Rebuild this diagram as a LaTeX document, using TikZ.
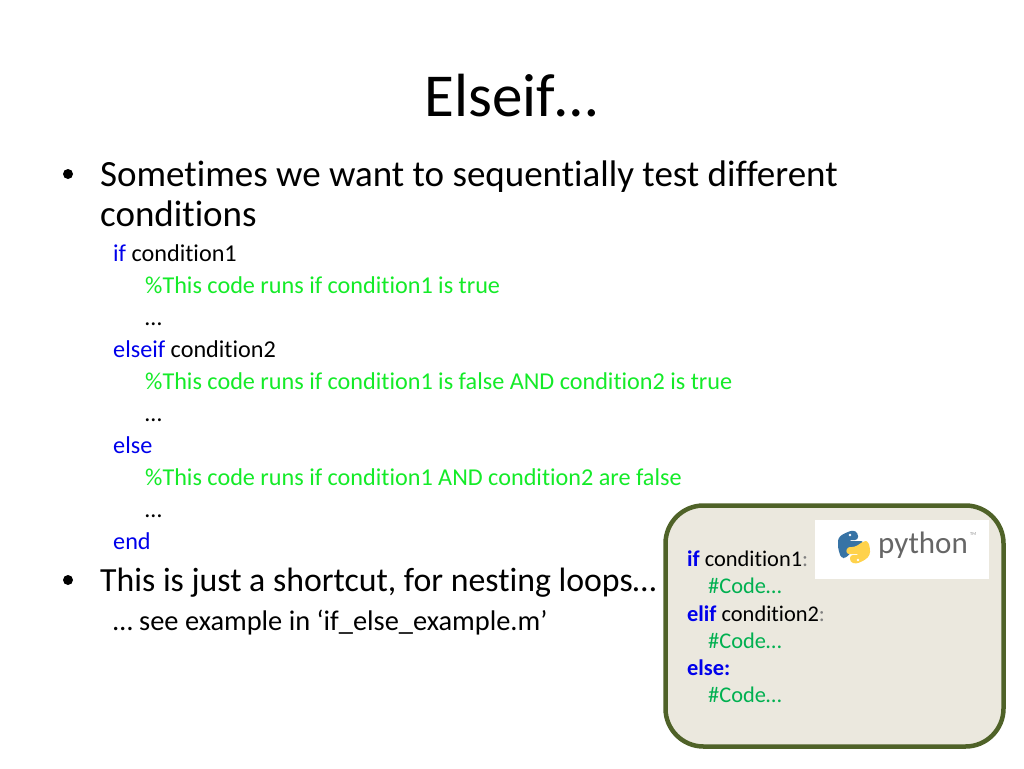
\documentclass[tikz,border=0pt]{standalone}
\usepackage{fontspec}
\setmainfont[Ligatures=NoCommon]{Carlito}
\usepackage{xcolor}
\definecolor{kwblue}{RGB}{0,0,235}
\definecolor{cmtgreen}{RGB}{20,235,40}
\definecolor{pygreen}{RGB}{0,176,80}
\definecolor{boxfill}{RGB}{235,232,222}
\definecolor{boxline}{RGB}{79,98,40}
\definecolor{snakeblue}{RGB}{55,115,165}
\definecolor{snakeyellow}{RGB}{255,210,75}
\tikzset{
    titletext/.style={anchor=base, font=\fontsize{61}{61}\selectfont},
    bodytext/.style={anchor=base west, inner sep=0pt, font=\fontsize{37}{37}\selectfont},
    codetext/.style={anchor=base west, inner sep=0pt, font=\fontsize{24.2}{24.2}\selectfont},
    boxtext/.style={anchor=base west, inner sep=0pt, font=\fontsize{22.4}{22.4}\selectfont},
}
\begin{document}
\begin{tikzpicture}[x=1pt, y=-1pt]
    \useasboundingbox (0, 0) rectangle (1024, 768);
    \fill[white] (0, 0) rectangle (1024, 768);

    % heading
    \node[titletext] (heading) at (511, 116) {Elseif…};

    % first bullet
    \fill (68, 174) circle (5);
    \node[bodytext] (sometimes) at (100, 186) {Sometimes we want to sequentially test different};
    \node[bodytext] (conditions) at (100, 226) {conditions};

    % matlab code
    \node[codetext] (ifline) at (113, 261) {\textcolor{kwblue}{if} condition1};
    \node[codetext, cmtgreen] (cmtone) at (145, 293) {\%This code runs if condition1 is true};
    \node[codetext] (dotsone) at (145, 325) {…};
    \node[codetext] (elseifline) at (113, 357) {\textcolor{kwblue}{elseif} condition2};
    \node[codetext, cmtgreen] (cmttwo) at (145, 389) {\%This code runs if condition1 is false AND condition2 is true};
    \node[codetext] (dotstwo) at (145, 421) {…};
    \node[codetext, kwblue] (elseline) at (113, 453) {else};
    \node[codetext, cmtgreen] (cmtthree) at (145, 485) {\%This code runs if condition1 AND condition2 are false};
    \node[codetext] (dotsthree) at (145, 517) {…};
    \node[codetext, kwblue] (endline) at (113, 549) {end};

    % second bullet
    \fill (68, 580) circle (5);
    \node[bodytext, font=\fontsize{33.8}{33.8}\selectfont] (shortcut) at (100, 591) {This is just a shortcut, for nesting loops…};
    \node[codetext, font=\fontsize{28.4}{28.4}\selectfont] (seeexample) at (113, 630) {… see example in ‘if\_else\_example.m’};

    % python box
    \draw[boxline, line width=4.5, fill=boxfill, rounded corners=38] (665.5, 505.5) rectangle (1003.5, 746.5);
    \node[boxtext] (pyif) at (687, 566) {\textcolor{kwblue}{\textbf{if}} condition1\textcolor{gray}{:}};
    \node[boxtext, pygreen] (pycodeone) at (708, 593) {\#Code…};
    \node[boxtext] (pyelif) at (687, 621) {\textcolor{kwblue}{\textbf{elif}} condition2\textcolor{gray}{:}};
    \node[boxtext, pygreen] (pycodetwo) at (708, 648) {\#Code…};
    \node[boxtext, kwblue] (pyelse) at (687, 675) {\textbf{else:}};
    \node[boxtext, pygreen] (pycodethree) at (708, 702) {\#Code…};

    % logo
    \fill[white] (815, 520) rectangle (989, 579);
    \fill[snakeblue, rounded corners=3] (838, 548) -- (838, 538) -- (843, 534) -- (853, 530) -- (858, 533) -- (858, 540) -- (848, 540) -- (848, 541) -- (864, 541) -- (853, 550) -- (846, 558) -- (841, 558) -- cycle;
    \fill[snakeyellow, rounded corners=3] (870, 548) -- (870, 555) -- (865, 560) -- (856, 564) -- (850, 562) -- (850, 555) -- (860, 555) -- (860, 554) -- (846, 554) -- (847, 547) -- (855, 547) -- (864, 541) -- (868, 541) -- cycle;
    \fill[white] (850, 535) circle (1.4);
    \fill[white] (858, 560) circle (1.4);
    \node[anchor=base west, inner sep=0pt, text=black!60, font=\fontsize{31}{31}\selectfont] (pylogo) at (878, 553) {python};
    \node[anchor=base west, inner sep=0pt, text=black!45, font=\fontsize{4.5}{4.5}\selectfont] (pytm) at (970, 535) {TM};
\end{tikzpicture}
\end{document}
